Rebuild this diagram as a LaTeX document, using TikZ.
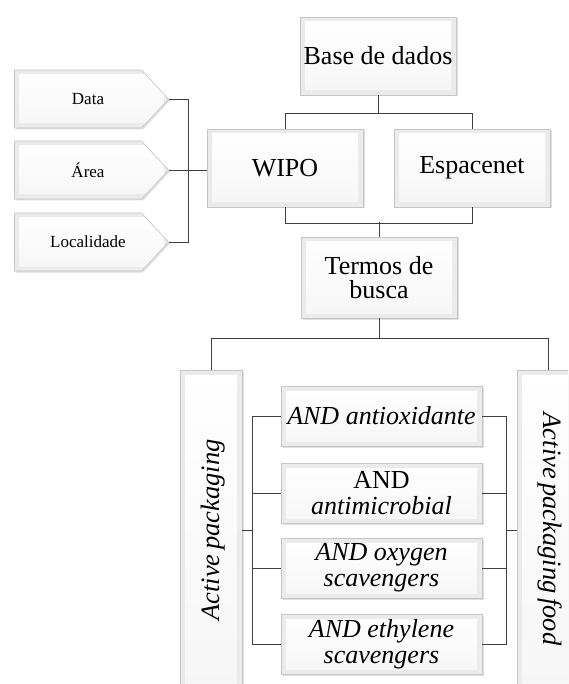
\documentclass[tikz,border=0pt]{standalone}
\usepackage{fontspec}
\setmainfont{Liberation Serif}
\usetikzlibrary{positioning, calc, shapes.symbols, shadows}

\begin{document}
\begin{tikzpicture}[
  x=1pt, y=-1pt,
  bev/.style  ={draw=gray!45, line width=0.6pt, fill=gray!16, align=center,
                inner sep=2pt,
                drop shadow={opacity=0.25, shadow xshift=1.5pt, shadow yshift=-1.5pt},
                path picture={\fill[top color=white, bottom color=gray!7]
                  ([shift={(5pt,-5pt)}]path picture bounding box.north west) rectangle
                  ([shift={(-5pt,5pt)}]path picture bounding box.south east);}},
  big/.style  ={bev, minimum width=156pt, minimum height=78pt,
                font=\fontsize{26}{24}\selectfont},
  arg/.style  ={bev, minimum width=201pt, minimum height=60pt,
                font=\fontsize{26}{26}\selectfont},
  tag/.style  ={bev, shape=signal, signal to=east, signal pointer angle=94,
                minimum width=154pt, minimum height=58pt,
                font=\fontsize{17}{17}\selectfont},
  side/.style ={bev, minimum width=62pt, minimum height=320pt},
  vtxt/.style ={font=\fontsize{26.5}{26.5}\selectfont\itshape, inner sep=0pt},
  ln/.style   ={draw=black!75, line width=0.9pt},
]

\clip (0,0) rectangle (568,684);
\fill[white] (0,0) rectangle (568,684);

% =========================== NODES ==================================
\node[big] (base)   at (378, 56)    {Base de dados};
\node[big] (wipo)   at (285, 168)   {WIPO};
\node[big] (espa)   at (472, 168)   {Espacenet};
\node[big, minimum height=81pt] (termos) at (379, 277.5) {Termos de\\busca};

\node[tag] (data) at (78, 99)  {\hspace*{20pt}Data};
\node[tag] (area) at (78, 170) {\hspace*{20pt}Área};
\node[tag] (loc)  at (78, 242) {\hspace*{20pt}Localidade};

\node[side] (actp) at (211, 530) {};
\node[side] (actf) at (548, 530) {};
\node[vtxt, rotate=90]  (actpT) at (213, 530) {Active\,packaging};
\node[vtxt, rotate=-90] (actfT) at (550, 529) {Active\,packaging\,food};

\node[arg] (and1) at (381.5, 416) {\itshape AND antioxidante};
\node[arg] (and2) at (381.5, 493) {AND\\\itshape antimicrobial};
\node[arg] (and3) at (381.5, 568) {\itshape AND oxygen\\\itshape scavengers};
\node[arg] (and4) at (381.5, 644) {\itshape AND ethylene\\\itshape scavengers};

% ========================= CONNECTORS ===============================
% base de dados -> WIPO / Espacenet
\draw[ln] (base.south) -- ++(0,18) -| (wipo.north);
\draw[ln] (base.south) ++(0,18) -| (espa.north);
% WIPO / Espacenet -> termos de busca
\draw[ln] (wipo.south) -- ++(0,16) -| (espa.south);
\draw[ln] (termos.north) -- ++(0,-15);
% filters on the left
\draw[ln] (data.east) -- ++(20,0) |- (loc.east);
\draw[ln] (area.east) -- (area.east -| wipo.west);
% termos de busca -> both search strings
\draw[ln] (termos.south) -- ++(0,20) -| (actp.north);
\draw[ln] (termos.south) ++(0,20) -| (actf.north);
% left bracket
\draw[ln] (and1.west) -- ++(-28,0) |- (and4.west);
\draw[ln] (and2.west) -- ++(-28,0);
\draw[ln] (and3.west) -- ++(-28,0);
\draw[ln] (actp.east) -- ++(11,0);
% right bracket
\draw[ln] (and1.east) -- ++(24,0) |- (and4.east);
\draw[ln] (and2.east) -- ++(24,0);
\draw[ln] (and3.east) -- ++(24,0);
\draw[ln] (actf.west) -- ++(-11,0);

\end{tikzpicture}
\end{document}
